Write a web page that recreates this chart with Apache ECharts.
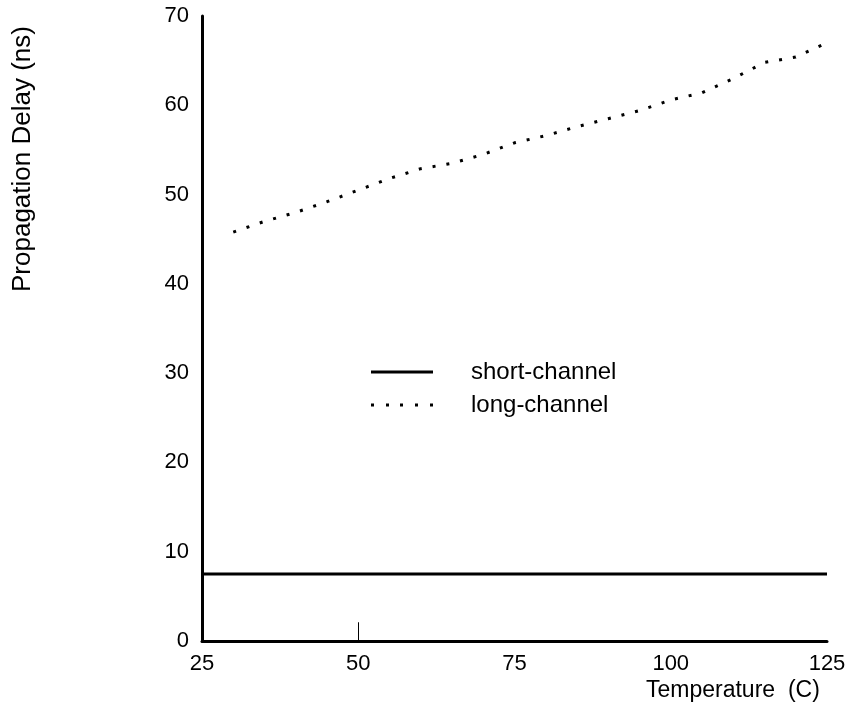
<!DOCTYPE html>
<html>
<head>
<meta charset="utf-8">
<script src="https://cdn.jsdelivr.net/npm/echarts@6/dist/echarts.min.js"></script>
<style>
  html, body { margin: 0; padding: 0; background: #fff; }
  #chart { width: 850px; height: 720px; }
</style>
</head>
<body>
<div id="chart"></div>
<script>
// data
var temps = [30, 35, 40, 45, 50, 55, 60, 65, 70, 75, 80, 85, 90, 95, 100, 105, 110, 115, 120, 125];
var longChannel = [45.8, 47.0, 48.0, 49.2, 50.5, 51.8, 52.9, 53.5, 54.5, 55.8, 56.6, 57.6, 58.5, 59.4, 60.6, 61.4, 63.0, 64.8, 65.4, 67.0];
var shortTemps = [25, 125];
var shortChannel = [7.5, 7.5];
var xTicks = [25, 50, 75, 100, 125];
var yTicks = [0, 10, 20, 30, 40, 50, 60, 70];

var font = 'Liberation Sans, Arial, sans-serif';

function pairs(xs, ys) {
  var out = [];
  for (var i = 0; i < xs.length; i++) out.push([xs[i], ys[i]]);
  return out;
}

var chart = echarts.init(document.getElementById('chart'));

var option = {
  animation: false,
  backgroundColor: '#fff',
  grid: { left: 202, right: 23, top: 16, bottom: 79 },
  xAxis: {
    type: 'value',
    min: xTicks[0],
    max: xTicks[xTicks.length - 1],
    interval: 25,
    axisLine: { show: true, lineStyle: { color: '#000', width: 3 } },
    axisTick: { show: false },
    splitLine: { show: false },
    axisLabel: { color: '#000', fontSize: 22, fontFamily: font, margin: 12 }
  },
  yAxis: {
    type: 'value',
    min: yTicks[0],
    max: yTicks[yTicks.length - 1],
    interval: 10,
    axisLine: { show: true, lineStyle: { color: '#000', width: 3 } },
    axisTick: { show: false },
    splitLine: { show: false },
    axisLabel: { color: '#000', fontSize: 22, fontFamily: font, margin: 13 }
  },
  legend: {
    orient: 'vertical',
    left: 366,
    top: 355,
    itemWidth: 62,
    itemHeight: 3,
    itemGap: 9,
    textStyle: { color: '#000', fontSize: 24, fontFamily: font, padding: [0, 0, 0, 33] },
    data: [
      { name: 'short-channel', icon: 'path://M0,0h62v3h-62z', itemStyle: { color: '#000' } },
      { name: 'long-channel', icon: 'path://M0,0h3v3h-3z M15,0h3v3h-3z M29,0h3v3h-3z M44,0h3v3h-3z M59,0h3v3h-3z', itemStyle: { color: '#000' } }
    ]
  },
  graphic: [
    {
      type: 'text',
      left: 646,
      top: 679,
      style: { text: 'Temperature  (C)', fill: '#000', font: '23px ' + font }
    },
    {
      type: 'text',
      x: 10,
      y: 292,
      rotation: Math.PI / 2,
      style: { text: 'Propagation Delay (ns)', fill: '#000', font: '26px ' + font }
    }
  ],
  series: [
    {
      name: 'short-channel',
      type: 'line',
      data: pairs(shortTemps, shortChannel),
      symbol: 'none',
      lineStyle: { color: '#000', width: 3 },
      itemStyle: { color: '#000' },
      markLine: {
        silent: true,
        symbol: 'none',
        label: { show: false },
        lineStyle: { color: '#000', width: 1, type: 'solid' },
        data: [[{ coord: [50, 0] }, { coord: [50, 2.1] }]]
      }
    },
    {
      name: 'long-channel',
      type: 'line',
      data: pairs(temps, longChannel),
      symbol: 'none',
      lineStyle: { color: '#000', width: 3, type: [3, 11] },
      itemStyle: { color: '#000' }
    }
  ]
};

chart.setOption(option);
</script>
</body>
</html>
